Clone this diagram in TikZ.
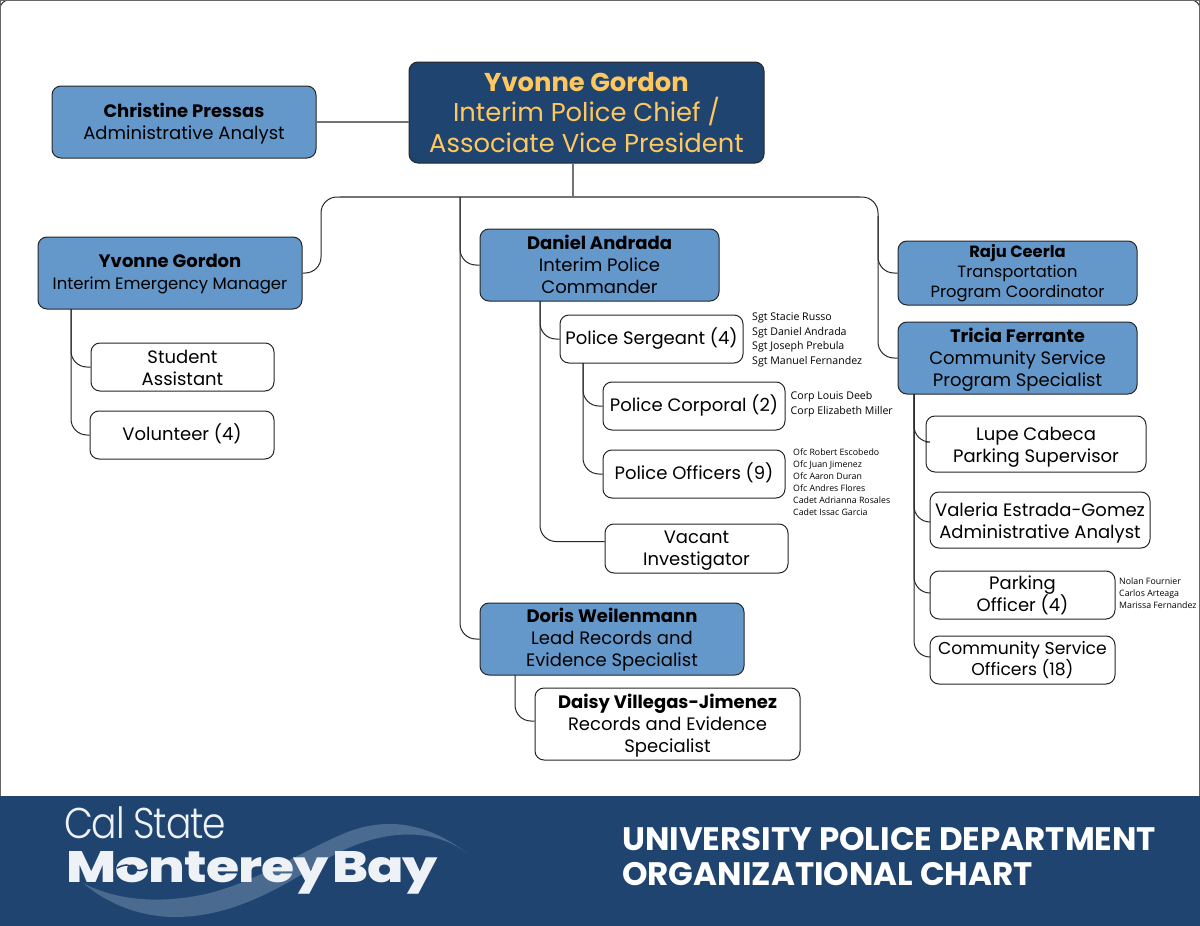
\documentclass[tikz,border=0pt]{standalone}
\usepackage{fontspec}
\setmainfont{Poppins}[BoldFont=* Bold]
\newfontfamily\namefont{Open Sans}
\newfontfamily\logolight{Poppins}[UprightFont=* Light,FakeStretch=0.875,LetterSpace=-3]
\newfontfamily\logoheavy{Poppins}[UprightFont=* ExtraBold,FakeStretch=1.22,LetterSpace=-2]
\newfontfamily\titlefont{Poppins}[UprightFont=* Bold]
\usetikzlibrary{calc}
\definecolor{navy}{HTML}{1F4470}
\definecolor{midblue}{HTML}{6497CA}
\definecolor{gold}{HTML}{FFC85F}
\definecolor{swoosh}{HTML}{4A6A90}
\definecolor{logow}{HTML}{EEF1F6}
\newcommand{\fs}[2]{\fontsize{#1}{#2}\selectfont}
% name, style, x1, y1, x2, y2, text offset, text
\newcommand{\bx}[8]{%
  \pgfmathsetmacro{\cxx}{(#3+#5)/2}\pgfmathsetmacro{\cyy}{(#4+#6)/2}%
  \pgfmathsetmacro{\tyy}{(#4+#6)/2+#7}%
  \pgfmathsetmacro{\www}{#5-#3}\pgfmathsetmacro{\hhh}{#6-#4}%
  \node[#2,minimum width=\www pt,minimum height=\hhh pt] (#1) at (\cxx,\cyy) {};
  \node[#2 text] (#1t) at (\cxx,\tyy) {#8};}
\tikzset{
  box/.style={draw=black!85,line width=1pt,rounded corners=9pt,inner sep=0pt},
  txt/.style={align=center,inner sep=0pt,text=black,font=\fs{18}{22}},
  blue/.style={box,fill=midblue},
  blue text/.style={txt},
  white/.style={box,fill=white},
  white text/.style={txt},
  chiefbox/.style={box,fill=navy},
  chiefbox text/.style={txt,text=gold,font=\fs{25.8}{30.5}},
  rajubox/.style={box,fill=midblue},
  rajubox text/.style={txt,font=\fs{16.3}{20}},
  tight/.style={box,fill=white},
  tight text/.style={txt,font=\fs{17.2}{21.5}},
  link/.style={draw=black!85,line width=1pt,rounded corners=16pt},
  bus/.style={draw=black!55,line width=1.6pt},
  names/.style={anchor=north west,inner sep=0pt,align=left,text=black},
  title/.style={anchor=west,inner sep=0pt,text=white,font=\titlefont\fs{32.5}{38}},
  logotext/.style={anchor=base west,inner sep=0pt,text=logow},
}
\begin{document}
\begin{tikzpicture}[x=1pt,y=-1pt]
\useasboundingbox (0,0) rectangle (1200,926);
\fill[white] (0,0) rectangle (1200,926);
\draw[black!60,line width=1pt] (0.5,926) -- (0.5,0.5) -- (1199.5,0.5) -- (1199.5,926);
\fill[navy] (0,796) rectangle (1200,926);
% logo
\fill[swoosh] (83,883) .. controls (115,910) and (150,917) .. (175,917)
  .. controls (235,917) and (285,885) .. (325,860)
  .. controls (375,830) and (430,825) .. (467,853)
  .. controls (430,825) and (390,815) .. (345,833)
  .. controls (300,852) and (260,880) .. (210,893)
  .. controls (160,905) and (115,900) .. (83,883) -- cycle;
\node[logotext,font=\logolight\fs{43}{46}] (logoA) at (64,838) {Cal State};
\node[logotext,font=\logoheavy\fs{44}{48}] (logoB) at (66,882) {Monterey\hspace{3pt}Bay};
\draw[navy,line width=1.6pt] (117,868) .. controls (125,864) and (128,864) .. (133,868) .. controls (138,872) and (142,871) .. (149,867);
\node[title] (t1) at (622,839) {UNIVERSITY POLICE DEPARTMENT};
\node[title] (t2) at (622,874) {ORGANIZATIONAL CHART};
% boxes
\bx{chief}{chiefbox}{409}{62}{764}{163}{0}{\textbf{Yvonne Gordon}\\Interim Police Chief /\\Associate Vice President}
\bx{chris}{blue}{52}{86}{316}{158}{2}{\textbf{Christine Pressas}\\Administrative Analyst}
\bx{yg}{blue}{38}{237}{302}{309}{1.5}{\textbf{Yvonne Gordon}\\\fs{16.5}{22}Interim Emergency Manager}
\bx{daniel}{blue}{480}{229}{719}{301}{-1}{\textbf{Daniel Andrada}\\Interim Police\\Commander}
\bx{raju}{rajubox}{898}{241}{1137}{305}{0.5}{\textbf{Raju Ceerla}\\Transportation\\Program Coordinator}
\bx{tricia}{blue}{898}{322}{1137}{394}{1.5}{\textbf{Tricia Ferrante}\\Community Service\\Program Specialist}
\bx{student}{white}{91}{343}{274}{391}{0.5}{Student\\Assistant}
\bx{volunteer}{white}{90}{411}{274}{459}{-1}{Volunteer (4)}
\bx{sgt}{white}{560}{315}{743}{363}{-0.5}{Police Sergeant (4)}
\bx{corp}{white}{603}{382}{785}{430}{-1}{Police Corporal (2)}
\bx{ofc}{white}{603}{450}{785}{498}{-1}{Police Officers (9)}
\bx{vacant}{white}{605}{524}{788}{573}{2.5}{Vacant\\Investigator}
\bx{doris}{blue}{480}{603}{744}{675}{0.5}{\textbf{Doris Weilenmann}\\Lead Records and\\Evidence Specialist}
\bx{daisy}{white}{535}{688}{800}{760}{2}{\textbf{Daisy Villegas-Jimenez}\\Records and Evidence\\Specialist}
\bx{lupe}{white}{926}{416}{1146}{472}{3}{Lupe Cabeca\\Parking Supervisor}
\bx{valeria}{white}{930}{492}{1150}{548}{3}{Valeria Estrada-Gomez\\Administrative Analyst}
\bx{parking}{white}{930}{571}{1115}{619}{0}{Parking\\Officer (4)}
\bx{cso}{tight}{930}{636}{1115}{684}{0}{Community Service\\Officers (18)}
% side name lists
\node[names,font=\namefont\fs{10.6}{14.5}] (sgtnames) at (752,313) {Sgt Stacie Russo\\Sgt Daniel Andrada\\Sgt Joseph Prebula\\Sgt Manuel Fernandez};
\node[names,font=\namefont\fs{10.6}{15}] (corpnames) at (790.5,391.5) {Corp Louis Deeb\\Corp Elizabeth Miller};
\node[names,font=\namefont\fs{8.8}{12}] (ofcnames) at (793,449) {Ofc Robert Escobedo\\Ofc Juan Jimenez\\Ofc Aaron Duran\\Ofc Andres Flores\\Cadet Adrianna Rosales\\Cadet Issac Garcia};
\node[names,font=\namefont\fs{8.8}{12}] (parknames) at (1119,578) {Nolan Fournier\\Carlos Arteaga\\Marissa Fernandez};
% trunk coordinates
\coordinate (bar) at (573,197);
\coordinate (busL) at (321,197);
\coordinate (busM) at (460,197);
\coordinate (busR) at (878,197);
\coordinate (busLs) at (340,197);
\coordinate (busRs) at (860,197);
\coordinate (busRd) at (878,216);
\coordinate (ygT) at (71,309);
\coordinate (danT) at (540,301);
\coordinate (sgtT) at (583,363);
\coordinate (dorT) at (515,675);
\coordinate (triT) at (914,394);
% connectors
\draw[bus] (chief.west |- chris.east) -- (chris.east);
\draw[bus] (chief.south -| bar) -- (bar);
\draw[link] (bar) -- (busL) |- (yg.east);
\draw[link] (bar) -- (busR) |- (raju.west);
\draw[link] (busRd) |- (tricia.west);
\draw[bus] (busLs) -- (busRs);
\draw[link] (busM) |- (daniel.west);
\draw[link] (busM) |- (doris.west);
\draw[link] (ygT) |- (student.west);
\draw[link] (ygT) |- (volunteer.west);
\draw[link] (danT) |- (sgt.west);
\draw[link] (danT) |- ($(vacant.west)+(0,-7)$);
\draw[link] (sgtT) |- (corp.west);
\draw[link] (sgtT) |- (ofc.west);
\draw[link] (dorT) |- ($(daisy.west)+(0,-3)$);
\draw[link] (triT) |- ($(lupe.west)+(0,-2)$);
\draw[link] (triT) |- ($(valeria.west)+(0,2)$);
\draw[link] (triT) |- ($(parking.west)+(0,-2)$);
\draw[link] (triT) |- ($(cso.west)+(0,-3)$);
\end{tikzpicture}
\end{document}
